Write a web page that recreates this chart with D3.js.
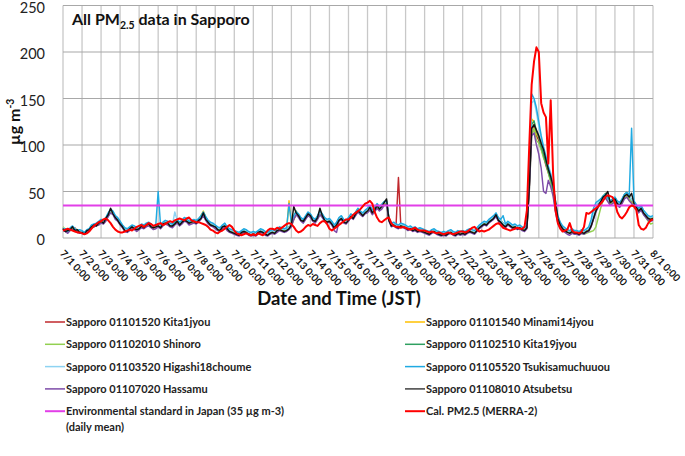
<!DOCTYPE html>
<html><head><meta charset="utf-8">
<script src="https://cdn.jsdelivr.net/npm/d3@7"></script>
<style>body{margin:0;background:#fff}svg{display:block}text{font-family:Lato,"Open Sans",sans-serif}</style>
</head><body><svg id="c" width="685" height="456"></svg>
<script>
// 3-hourly samples from 7/1 0:00 to 8/1 0:00 (hours since 7/1 0:00)
const stepHours = 3;
const tickLabels = ["7/1 0:00","7/2 0:00","7/3 0:00","7/4 0:00","7/5 0:00","7/6 0:00","7/7 0:00","7/8 0:00","7/9 0:00","7/10 0:00","7/11 0:00","7/12 0:00","7/13 0:00","7/14 0:00","7/15 0:00","7/16 0:00","7/17 0:00","7/18 0:00","7/19 0:00","7/20 0:00","7/21 0:00","7/22 0:00","7/23 0:00","7/24 0:00","7/25 0:00","7/26 0:00","7/27 0:00","7/28 0:00","7/29 0:00","7/30 0:00","7/31 0:00","8/1 0:00"];
const yTicks = [0,50,100,150,200,250];
const envStandard = 35;

const kita1jyou = [11,7,8,10,9,11,7,8, 7,5,6,10,13,12,15,15,
17,18,21,24,29,26,23,19, 15,13,8,9,11,11,12,10,
10,14,13,13,16,12,12,11, 15,13,14,18,15,15,12,15,
17,16,18,19,20,15,18,17, 18,18,23,25,20,18,14,15,
11,11,10,11,15,9,9,8, 7,4,5,7,7,8,6,5,
6,5,5,9,6,6,5,7, 8,7,7,11,10,7,10,10,
15,20,26,23,21,17,21,25, 23,21,17,23,26,23,21,19,
18,15,13,16,19,21,19,16, 21,23,23,25,29,28,24,27,
29,32,29,30,34,33,33,36, 38,19,15,14,14,65,13,14,
11,11,10,10,9,9,10,9, 8,7,6,6,9,7,6,5,
6,5,5,8,6,5,7,6, 7,6,6,9,8,7,8,11,
13,15,16,17,19,21,24,19, 17,14,14,15,13,13,12,12,
11,11,10,13,55,118,120,110, 105,96,88,78,70,62,50,34,
20,14,12,10,8,7,9,7, 7,6,8,7,9,10,15,24,
31,35,39,43,45,41,37,39, 41,37,35,39,44,46,42,39,
36,33,29,32,27,24,21,20, 21];

const minami14jyou = [9,10,8,8,12,10,9,6, 7,6,8,8,11,14,13,17,
19,16,19,26,30,28,21,21, 17,11,10,9,9,13,10,10,
12,12,13,15,14,14,10,13, 13,13,16,16,17,13,14,17,
19,14,16,21,18,17,16,19, 16,20,24,29,22,16,16,13,
13,9,10,13,13,11,7,8, 7,6,5,5,9,6,6,5,
4,5,7,7,8,6,5,5, 8,5,9,9,10,9,8,40,
16,21,27,25,19,19,23,25, 25,19,19,21,28,25,19,17,
20,17,11,14,21,23,17,18, 19,25,21,27,31,26,26,29,
31,34,27,32,36,31,35,37, 39,21,13,16,12,13,15,12,
13,9,12,8,11,9,8,9, 6,7,4,8,7,5,6,5,
4,5,7,6,6,5,5,6, 5,6,8,7,8,5,10,13,
15,17,14,19,21,23,26,21, 19,16,12,17,15,11,14,10,
13,9,10,12,60,128,125,112, 108,100,90,82,74,66,52,36,
23,16,10,9,8,5,7,7, 5,6,6,7,7,10,13,21,
29,37,41,45,46,43,39,41, 43,39,37,41,45,47,43,41,
37,35,31,34,29,26,23,20, 22];

const shinoro = [12,9,6,9,10,8,9,8, 5,6,7,10,11,12,15,14,
17,18,19,24,28,26,22,19, 15,12,10,7,10,12,12,8,
11,12,11,14,16,14,12,11, 13,11,16,17,15,14,14,15,
17,16,18,20,20,17,16,17, 18,18,21,25,22,18,14,13,
12,11,8,12,13,11,9,6, 5,6,4,7,8,6,5,5,
6,4,6,7,8,4,5,6, 6,7,8,9,10,8,9,12,
13,20,25,23,21,17,21,24, 23,21,18,21,25,23,21,18,
18,16,13,14,19,21,18,16, 19,23,23,25,28,27,24,27,
29,31,29,30,33,31,33,36, 37,19,15,14,14,12,13,14,
12,11,10,10,10,9,8,8, 7,5,6,7,7,6,6,4,
5,4,5,7,6,4,6,6, 6,6,7,8,7,7,9,11,
13,16,15,17,19,21,23,20, 17,15,14,15,14,13,12,12,
12,11,9,11,50,110,118,105, 102,95,86,80,70,60,48,30,
19,13,10,8,6,6,7,5, 5,4,5,4,5,6,7,8,
12,22,32,40,44,41,37,38, 40,37,35,38,44,45,42,38,
36,32,29,31,26,22,18,15, 16];

const kita19jyou = [10,8,8,10,12,9,9,7, 6,6,8,9,13,14,14,17,
19,18,21,26,30,28,23,20, 16,13,9,9,11,12,12,10,
12,13,12,15,16,13,12,13, 15,12,16,18,17,14,14,17,
19,16,17,21,20,17,18,19, 18,20,23,27,22,18,16,14,
13,10,10,13,15,11,9,8, 7,5,5,6,9,7,6,4,
5,5,6,9,7,6,5,6, 8,7,8,11,10,9,9,12,
15,23,29,25,21,19,23,27, 25,21,19,23,28,25,21,19,
20,17,13,16,21,23,19,18, 21,25,23,27,31,28,26,29,
31,34,29,32,36,33,36,39, 40,21,15,16,14,13,15,14,
13,11,12,10,11,9,10,9, 8,7,6,8,9,7,6,5,
6,5,7,8,6,5,7,6, 7,6,8,9,8,7,10,13,
15,17,16,19,21,23,26,21, 19,16,14,17,15,13,14,12,
13,11,10,13,58,122,126,115, 108,98,90,80,72,63,53,36,
21,15,12,10,8,7,9,7, 7,6,8,7,9,10,15,23,
31,37,41,45,48,43,39,41, 43,39,37,41,47,49,45,41,
39,35,31,34,29,26,23,22, 23];

const higashi18choume = [11,9,8,10,12,10,9,8, 7,6,8,10,13,14,15,17,
19,18,21,26,30,28,23,21, 17,13,10,9,11,13,12,10,
12,14,13,15,16,14,12,13, 15,13,16,18,17,15,14,28,
19,16,18,21,20,17,18,19, 18,20,23,27,22,18,16,15,
13,11,10,13,15,11,9,8, 7,6,5,7,9,8,6,5,
6,5,7,9,8,6,5,7, 8,7,9,11,10,9,10,12,
15,23,27,25,21,19,23,27, 25,21,19,23,28,25,21,19,
20,17,13,16,21,23,19,18, 21,25,23,27,31,28,26,29,
31,34,29,32,36,33,35,38, 39,21,15,16,14,13,15,14,
13,11,12,10,11,9,10,9, 8,7,6,8,9,7,6,5,
6,5,7,8,6,5,7,6, 7,6,8,9,8,7,10,13,
15,17,16,19,21,23,26,21, 19,16,14,17,15,13,14,12,
13,11,10,13,65,145,148,135, 120,108,96,86,78,70,58,40,
23,16,12,10,8,7,9,7, 7,6,8,7,9,10,16,26,
34,38,41,44,46,42,39,41, 43,39,37,41,46,48,45,41,
39,35,31,34,29,26,23,22, 23];

const tsukisamuchuuou = [9,10,7,11,13,10,8,9, 8,6,9,10,14,15,16,18,
20,19,22,27,31,29,24,22, 18,14,11,10,12,14,13,11,
13,15,14,16,17,15,13,14, 50,14,17,19,18,16,15,18,
20,17,19,22,21,18,19,20, 19,21,24,28,23,19,17,16,
14,12,11,14,16,12,10,9, 8,7,6,8,10,9,7,6,
7,6,8,10,9,7,6,8, 9,8,10,12,11,10,11,37,
16,24,28,26,22,20,24,28, 26,22,20,24,29,26,22,20,
21,18,14,17,22,24,20,19, 22,26,24,28,32,29,27,30,
32,35,30,33,37,34,36,39, 40,22,16,17,15,14,16,15,
14,12,13,11,12,10,11,10, 9,8,7,9,10,8,7,6,
7,6,8,9,7,6,8,7, 8,7,9,10,9,8,11,14,
16,18,17,20,22,24,27,22, 20,24,15,18,16,14,15,13,
14,12,11,14,70,155,150,140, 125,110,98,88,76,68,56,38,
24,17,13,11,9,8,10,8, 8,7,9,8,10,12,20,32,
38,40,42,45,47,43,40,42, 44,40,38,42,47,49,46,118,
40,36,32,35,30,27,24,23, 24];

const hassamu = [8,7,5,8,9,8,6,5, 5,4,6,8,11,12,13,14,
16,15,18,23,27,25,20,18, 14,11,7,6,8,10,9,7,
9,11,10,12,13,11,9,10, 12,10,13,15,14,12,11,14,
16,13,15,18,17,14,15,16, 15,17,20,24,19,15,13,12,
10,8,7,10,12,8,6,5, 4,3,2,4,6,5,3,2,
3,2,4,6,5,3,2,4, 5,4,6,8,7,6,7,9,
12,20,25,22,18,16,20,24, 22,18,16,20,25,22,18,16,
17,14,8,6,18,20,16,15, 18,22,20,24,28,25,23,26,
27,30,25,28,32,29,31,35, 36,18,12,13,11,10,12,11,
10,8,9,7,8,6,7,6, 5,4,3,5,6,4,3,2,
3,2,4,5,3,2,4,3, 4,3,5,6,5,4,7,10,
12,14,13,16,18,20,23,18, 16,13,11,14,12,10,11,9,
10,8,7,10,50,110,113,100, 90,75,50,48,62,55,45,28,
16,11,8,6,4,3,5,4, 4,3,5,4,6,7,12,20,
28,33,37,41,43,39,35,37, 39,35,33,37,42,44,40,37,
35,31,27,30,25,22,19,18, 19];

const atsubetsu = [10,7,8,9,12,8,9,6, 6,4,8,9,12,14,13,16,
18,16,21,25,32,26,22,19, 15,12,8,7,10,12,10,9,
10,13,11,14,15,12,11,12, 13,11,15,16,16,13,13,15,
18,14,17,19,18,16,17,18, 16,19,21,27,20,17,14,13,
12,9,8,12,13,10,7,6, 5,4,3,6,7,6,4,3,
4,3,6,7,6,4,3,5, 6,5,8,9,8,7,8,10,
14,34,27,24,19,18,22,26, 24,19,18,22,32,24,19,17,
18,15,11,14,19,21,17,16, 19,23,21,26,29,27,24,27,
29,33,27,30,35,31,34,38, 42,19,13,14,12,11,13,12,
11,9,10,8,9,7,8,7, 6,5,4,6,7,5,4,3,
4,3,5,6,4,3,5,4, 5,4,6,7,6,5,8,11,
13,15,14,17,19,21,25,19, 17,14,12,15,13,11,12,10,
11,9,8,11,55,118,122,116, 110,102,95,84,74,66,56,40,
21,14,10,8,6,5,7,5, 5,4,6,5,7,8,13,21,
29,35,39,44,46,50,38,40, 42,37,35,40,45,47,44,48,
37,33,29,32,27,24,21,20, 21];

const calMerra2 = [8,9,10,9,8,7,6,6, 5,4,5,7,10,13,15,17,
18,20,21,19,16,12,9,7, 6,6,7,8,9,8,10,12,
13,14,12,14,16,15,13,14, 15,16,14,15,17,18,17,19,
20,21,20,19,21,22,19,18, 17,17,16,15,14,12,9,8,
6,5,7,8,10,12,14,12, 8,5,4,3,4,5,4,3,
4,3,5,4,3,5,8,10, 10,9,11,10,11,13,15,16,
15,12,8,6,7,9,12,14, 13,15,14,13,16,18,18,15,
10,8,10,12,14,16,18,20, 20,22,25,27,29,31,34,37,
38,40,37,28,22,18,17,19, 21,22,16,13,12,12,11,12,
11,10,9,10,11,9,8,8, 8,7,6,7,6,5,6,5,
4,5,6,5,4,5,6,7, 7,6,7,9,11,12,9,7,
8,7,8,9,11,13,15,16, 14,11,10,9,8,9,10,11,
10,10,12,30,100,165,190,205, 200,145,135,130,80,148,70,30,
16,10,7,8,9,16,8,6, 6,5,7,12,27,26,28,30,
32,34,37,40,44,46,45,44, 38,28,23,21,24,28,33,35,
34,30,14,10,9,11,16,19, 20];

const stationNames = ["Sapporo 01101520 Kita1jyou","Sapporo 01101540 Minami14jyou","Sapporo 01102010 Shinoro","Sapporo 01102510 Kita19jyou","Sapporo 01103520 Higashi18choume","Sapporo 01105520 Tsukisamuchuuou","Sapporo 01107020 Hassamu","Sapporo 01108010 Atsubetsu"];
const stationValues = [kita1jyou, minami14jyou, shinoro, kita19jyou, higashi18choume, tsukisamuchuuou, hassamu, atsubetsu];
const stationColors = ["#C0282D","#FFC000","#92D050","#2FA060","#8ED3F2","#1FAAE2","#7D4BA8","#111111"];
const envName = ["Environmental standard in Japan (35 µg m-3)","(daily mean)"];
const calName = "Cal. PM2.5 (MERRA-2)";

const svg = d3.select("#c");
const x = d3.scaleLinear().domain([0, 744]).range([63, 653]);
const y = d3.scaleLinear().domain([0, 250]).range([238, 5.5]);

// grid
const g = svg.append("g");
g.selectAll(".vg").data(d3.range(0, 745, 24)).join("line")
  .attr("x1", d => x(d)).attr("x2", d => x(d)).attr("y1", y(250)).attr("y2", y(0))
  .attr("stroke", "#c8c8c8").attr("stroke-width", 1.3);
g.selectAll(".hg").data(yTicks).join("line")
  .attr("x1", x(0)).attr("x2", x(744)).attr("y1", d => y(d)).attr("y2", d => y(d))
  .attr("stroke", "#a8a8a8").attr("stroke-width", 1.2);

// y axis labels
const yAxis = d3.axisLeft(y).tickValues(yTicks).tickSize(0).tickPadding(18);
const ya = svg.append("g").attr("transform", `translate(${x(0)},0)`).call(yAxis);
ya.select(".domain").remove();
ya.selectAll("text").attr("font-size", 14.5).attr("fill", "#222").attr("dy", "0.45em")
  .style("font-family", "Lato, sans-serif");

// x axis labels
const xAxis = d3.axisBottom(x).tickValues(d3.range(0, 745, 24)).tickSize(0)
  .tickFormat((d, i) => tickLabels[i]);
const xa = svg.append("g").attr("transform", `translate(0,${y(0)})`).call(xAxis);
xa.select(".domain").remove();
xa.selectAll("text").attr("font-size", 10).attr("font-weight", "bold").attr("fill", "#111")
  .attr("text-anchor", "start").attr("dy", null).attr("y", 0)
  .attr("transform", "translate(-4,16) rotate(47)").style("font-family", "Lato, sans-serif");

// lines
const hoursOf = arr => arr.map((v, i) => [i * stepHours, v]);
const line = d3.line().x(d => x(d[0])).y(d => y(d[1]));
const plot = svg.append("g");
stationValues.forEach((vals, k) => {
  plot.append("path").datum(hoursOf(vals)).attr("d", line)
    .attr("fill", "none").attr("stroke", stationColors[k]).attr("stroke-width", 1.45)
    .attr("stroke-linejoin", "round");
});
plot.append("path").datum([[0, envStandard], [744, envStandard]]).attr("d", line)
  .attr("fill", "none").attr("stroke", "#E23FE8").attr("stroke-width", 2);
plot.append("path").datum(hoursOf(calMerra2)).attr("d", line)
  .attr("fill", "none").attr("stroke", "#FF0000").attr("stroke-width", 2)
  .attr("stroke-linejoin", "round");

// title
const t = svg.append("text").attr("x", 72).attr("y", 25).attr("font-size", 16)
  .attr("font-weight", "bold").attr("fill", "#111");
t.append("tspan").text("All PM");
t.append("tspan").attr("font-size", 10.5).attr("dy", 4).text("2.5");
t.append("tspan").attr("dy", -4).text(" data in Sapporo");

// y title
const yt = svg.append("text").attr("transform", `translate(20,${y(125)}) rotate(-90)`)
  .attr("text-anchor", "middle").attr("font-size", 16).attr("font-weight", "bold").attr("fill", "#111");
yt.append("tspan").text("µg m");
yt.append("tspan").attr("font-size", 10.5).attr("dy", -6).text("-3");

// x title
svg.append("text").attr("x", 339).attr("y", 305).attr("text-anchor", "middle")
  .attr("font-size", 18.5).attr("font-weight", "bold").attr("fill", "#111").text("Date and Time (JST)");

// legend
const legItems = stationNames.map((n, i) => ({ lines: [n], color: stationColors[i] === "#111111" ? "#404040" : stationColors[i], w: 1.5 }));
legItems.push({ lines: envName, color: "#E23FE8", w: 2 });
legItems.push({ lines: [calName], color: "#FF0000", w: 2 });
const leg = svg.append("g");
legItems.forEach((it, i) => {
  const col = i % 2, row = Math.floor(i / 2);
  const lx = col === 0 ? 45 : 405, ly = 322 + row * 22.3;
  leg.append("line").attr("x1", lx).attr("x2", lx + 20).attr("y1", ly).attr("y2", ly)
    .attr("stroke", it.color).attr("stroke-width", it.w);
  it.lines.forEach((s, j) => {
    leg.append("text").attr("x", lx + 21).attr("y", ly + 4 + j * 16).attr("font-size", 11)
      .attr("font-weight", "bold").attr("fill", "#222").text(s);
  });
});
</script></body></html>
